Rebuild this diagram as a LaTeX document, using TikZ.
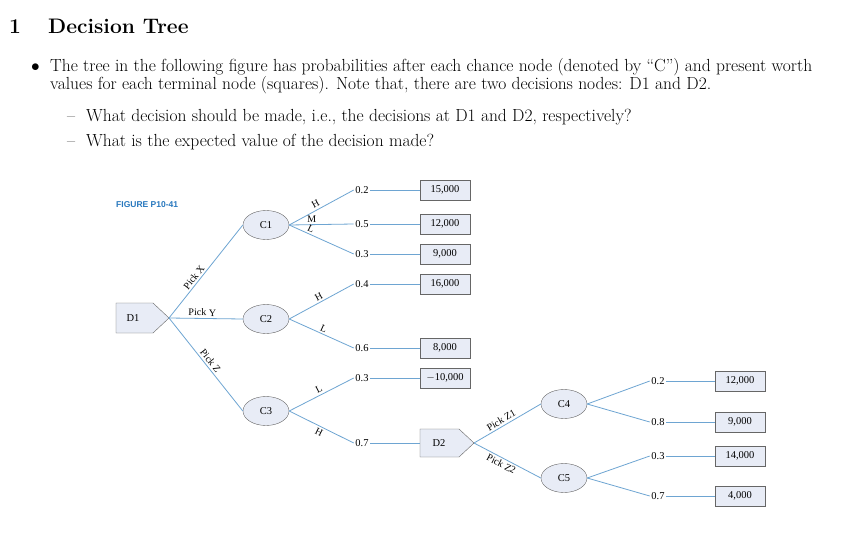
\documentclass[tikz,border=0pt]{standalone}
\usepackage{fontspec}
\newfontfamily\figfont{Liberation Serif}
\newfontfamily\figsans{Liberation Sans}
\usetikzlibrary{shapes.geometric}
\definecolor{lnblue}{RGB}{110,165,210}
\definecolor{boxfill}{RGB}{232,236,246}
\definecolor{figblue}{RGB}{40,120,190}
\tikzset{
  body/.style={anchor=base west,inner sep=0pt,font=\fontsize{17.5}{21}\selectfont},
  chance/.style={ellipse,draw=gray!80!black,fill=boxfill,minimum width=46pt,minimum height=29pt,inner sep=0pt,font=\figfont\fontsize{10.5}{11}\selectfont},
  payoff/.style={rectangle,draw=gray!80!black,fill=boxfill,minimum width=50pt,minimum height=20pt,inner sep=0pt,font=\figfont\fontsize{10.5}{11}\selectfont},
  decision/.style={draw=gray!80!black,fill=boxfill},
  prob/.style={inner sep=1.5pt,font=\figfont\fontsize{10.5}{11}\selectfont},
  branch/.style={draw=lnblue,line width=0.8pt},
  elab/.style={font=\figfont\fontsize{10}{11}\selectfont,inner sep=2pt,sloped},
}
\begin{document}
\begin{tikzpicture}[x=1pt,y=-1pt]
\useasboundingbox[fill=white] (0,0) rectangle (851,543);
% header
\node[body,font=\fontsize{21}{25}\selectfont\bfseries] (n1) at (9,34) {1};
\node[body,font=\fontsize{21}{25}\selectfont\bfseries] (ttl) at (48,34) {Decision Tree};
\node[body] (bul) at (31,71) {$\bullet$};
\node[body] (l1) at (50,71) {The tree in the following figure has probabilities after each chance node (denoted by ``C'') and present worth};
\node[body] (l2) at (50,89) {values for each terminal node (squares). Note that, there are two decisions nodes: D1 and D2.};
\node[body] (d1) at (67,121) {--};
\node[body] (q1) at (86,121) {What decision should be made, i.e., the decisions at D1 and D2, respectively?};
\node[body] (d2) at (67,146) {--};
\node[body] (q2) at (86,146) {What is the expected value of the decision made?};
% figure
\node[anchor=west,inner sep=0pt,text=figblue,font=\figsans\bfseries\fontsize{8.5}{10}\selectfont] (fig) at (116,205) {FIGURE P10-41};
% D1
\draw[decision] (116,303) -- (153,303) -- (169,318) -- (153,333) -- (116,333) -- cycle;
\node[inner sep=0pt,font=\figfont\fontsize{10.5}{11}\selectfont] (D1) at (133,318) {D1};
\coordinate (D1t) at (169,318);
% D2
\draw[decision] (420,429) -- (459,429) -- (474,443) -- (459,457) -- (420,457) -- cycle;
\node[inner sep=0pt,font=\figfont\fontsize{10.5}{11}\selectfont] (D2) at (439,443) {D2};
\coordinate (D2t) at (474,443);
\coordinate (D2w) at (420,443);
% chance nodes
\node[chance] (C1) at (266,225) {C1};
\node[chance] (C2) at (266,319) {C2};
\node[chance] (C3) at (266,411) {C3};
\node[chance] (C4) at (564,404) {C4};
\node[chance] (C5) at (564,478) {C5};
% D1 branches
\draw[branch] (D1t) -- node[elab,above,pos=0.4] {Pick X} (C1.west);
\draw[branch] (D1t) -- node[elab,above,pos=0.45] {Pick Y} (C2.west);
\draw[branch] (D1t) -- node[elab,above,pos=0.5] {Pick Z} (C3.west);
% probabilities and payoffs
\foreach \nm/\y/\pr/\val in {p1/190/0.2/15{,}000, p2/224/0.5/12{,}000, p3/254/0.3/9{,}000, p4/284/0.4/16{,}000, p5/348/0.6/8{,}000, p6/378/0.3/{$-$10{,}000}}{
  \node[prob] (\nm) at (362,\y) {\pr};
  \node[payoff] (b\nm) at (445,\y) {\val};
  \draw[branch] (\nm.east) -- (b\nm.west);
}
\node[prob] (p7) at (362,443) {0.7};
\draw[branch] (p7.east) -- (D2w);
\foreach \nm/\y/\pr/\val in {q1/381/0.2/12{,}000, q2/422/0.8/9{,}000, q3/456/0.3/14{,}000, q4/496/0.7/4{,}000}{
  \node[prob] (\nm) at (658,\y) {\pr};
  \node[payoff] (b\nm) at (740,\y) {\val};
  \draw[branch] (\nm.east) -- (b\nm.west);
}
% chance branches
\draw[branch] (C1.east) -- node[elab,above,pos=0.45] {H} (p1.west);
\draw[branch] (C1.east) -- node[elab,above,pos=0.35] {M} (p2.west);
\draw[branch] (C1.east) -- node[elab,above,pos=0.3] {L} (p3.west);
\draw[branch] (C2.east) -- node[elab,above,pos=0.5] {H} (p4.west);
\draw[branch] (C2.east) -- node[elab,above,pos=0.5] {L} (p5.west);
\draw[branch] (C3.east) -- node[elab,above,pos=0.5] {L} (p6.west);
\draw[branch] (C3.east) -- node[elab,below,pos=0.5] {H} (p7.west);
\draw[branch] (D2t) -- node[elab,above,pos=0.45] {Pick Z1} (C4.west);
\draw[branch] (D2t) -- node[elab,below,pos=0.45] {Pick Z2} (C5.west);
\draw[branch] (C4.east) -- (q1.west);
\draw[branch] (C4.east) -- (q2.west);
\draw[branch] (C5.east) -- (q3.west);
\draw[branch] (C5.east) -- (q4.west);
\end{tikzpicture}
\end{document}
